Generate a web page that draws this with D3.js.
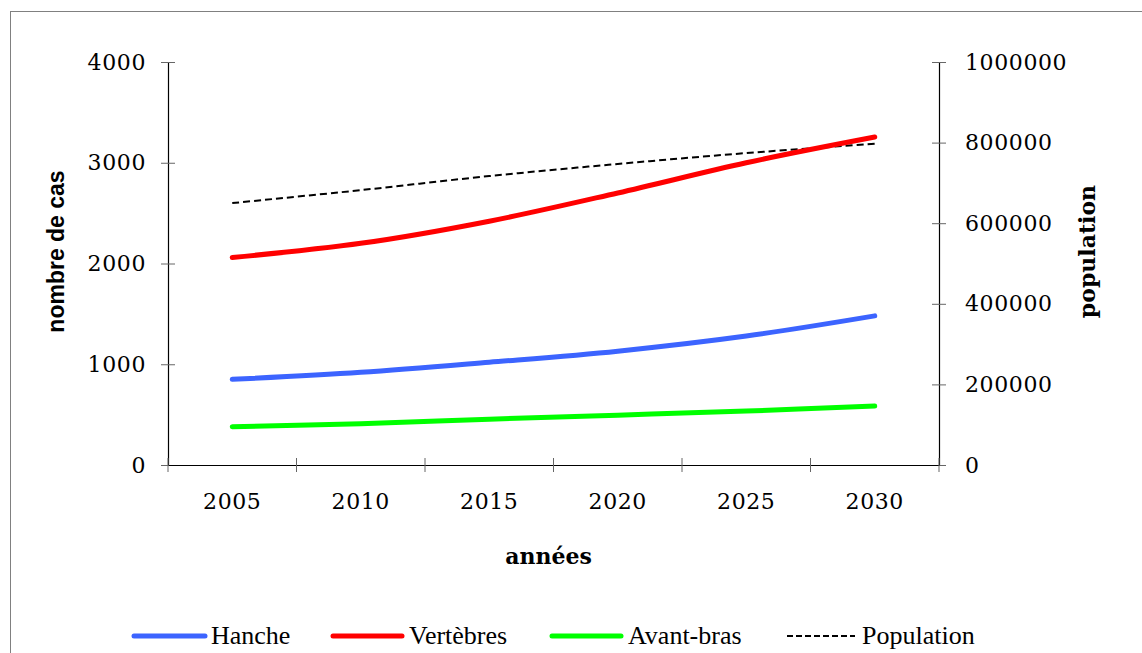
<!DOCTYPE html>
<html><head><meta charset="utf-8">
<script src="https://cdn.jsdelivr.net/npm/d3@7"></script>
<style>
html,body{margin:0;padding:0;background:#fff;}
svg{display:block;}
</style></head>
<body>
<svg id="chart" width="1142" height="653"></svg>
<script>
const years = ["2005","2010","2015","2020","2025","2030"];
const hanche = [850, 920, 1020, 1130, 1280, 1480];
const vertebres = [2060, 2200, 2420, 2700, 3000, 3255];
const avantBras = [380, 410, 455, 495, 535, 585];
const population = [650000, 682000, 717000, 747000, 774000, 797000];
const leftTicks = [0, 1000, 2000, 3000, 4000];
const rightTicks = [0, 200000, 400000, 600000, 800000, 1000000];
const seriesNames = ["Hanche", "Vertèbres", "Avant-bras", "Population"];
const seriesColors = ["#3c64ff", "#ff0000", "#00ff00", "#000000"];

const svg = d3.select("#chart");
const serif = "'DejaVu Serif', serif";

// outer border
svg.append("rect").attr("x", 10.5).attr("y", 11.5).attr("width", 1160).attr("height", 700)
  .attr("fill", "none").attr("stroke", "#808080").attr("stroke-width", 1);

const L = 168, R = 939, T = 62, B = 465;
const x = d3.scaleBand().domain(years).range([L, R]).padding(0);
const yL = d3.scaleLinear().domain([0, 4000]).range([B, T]);
const yR = d3.scaleLinear().domain([0, 1000000]).range([B, T]);
const cx = d => x(d) + x.bandwidth() / 2;

function styleTicks(g) {
  g.selectAll("text").attr("font-family", serif).attr("font-size", 22)
    .attr("fill", "#000").attr("letter-spacing", 0.6);
}

// left axis
const gL = svg.append("g").attr("transform", `translate(${L},0)`)
  .call(d3.axisLeft(yL).tickValues(leftTicks).tickSize(0).tickPadding(22).tickFormat(d3.format("d")));
gL.select(".domain").attr("stroke", "#000").attr("stroke-width", 1.2);
gL.selectAll(".tick").append("line").attr("x1", -7).attr("x2", 7).attr("stroke", "#666");
styleTicks(gL);

// right axis
const gR = svg.append("g").attr("transform", `translate(${R},0)`)
  .call(d3.axisRight(yR).tickValues(rightTicks).tickSize(0).tickPadding(26).tickFormat(d3.format("d")));
gR.select(".domain").attr("stroke", "#000").attr("stroke-width", 1.2);
gR.selectAll(".tick").append("line").attr("x1", -7).attr("x2", 7).attr("stroke", "#666");
styleTicks(gR);

// x axis
const gX = svg.append("g").attr("transform", `translate(0,${B})`)
  .call(d3.axisBottom(x).tickSize(0).tickPadding(28));
gX.select(".domain").attr("stroke", "#000").attr("stroke-width", 1.2);
styleTicks(gX);
const bounds = years.map(d => x(d)).concat([x(years[years.length - 1]) + x.bandwidth()]);
gX.selectAll(".sep").data(bounds).enter().append("line")
  .attr("x1", d => d).attr("x2", d => d).attr("y1", -7).attr("y2", 7).attr("stroke", "#666");

// axis titles
svg.append("text").attr("transform", `translate(64,${(T + B) / 2 - 12}) rotate(-90)`)
  .attr("text-anchor", "middle").attr("font-family", "'Liberation Sans', Arial, sans-serif")
  .attr("font-weight", "bold").attr("font-size", 23).text("nombre de cas");
svg.append("text").attr("transform", `translate(1095,${(T + B) / 2 - 12}) rotate(-90)`)
  .attr("text-anchor", "middle").attr("font-family", serif)
  .attr("font-weight", "bold").attr("font-size", 22).text("population");
svg.append("text").attr("x", (L + R) / 2 - 5).attr("y", 564)
  .attr("text-anchor", "middle").attr("font-family", serif)
  .attr("font-weight", "bold").attr("font-size", 22).text("années");

// lines
const curve = d3.curveCatmullRom.alpha(0.5);
const lineL = d3.line().x((d, i) => cx(years[i])).y(d => yL(d)).curve(curve);
const lineR = d3.line().x((d, i) => cx(years[i])).y(d => yR(d)).curve(curve);

svg.append("path").datum(population).attr("d", lineR).attr("fill", "none")
  .attr("stroke", "#000").attr("stroke-width", 2).attr("stroke-dasharray", "7,4");
[[hanche, 0], [vertebres, 1], [avantBras, 2]].forEach(([data, i]) => {
  svg.append("path").datum(data).attr("d", lineL).attr("fill", "none")
    .attr("stroke", seriesColors[i]).attr("stroke-width", 5).attr("stroke-linecap", "round");
});

// legend
const legendY = 636;
const legendItems = [
  {x1: 134, x2: 205, tx: 211},
  {x1: 333, x2: 402, tx: 409},
  {x1: 552, x2: 621, tx: 628},
  {x1: 787, x2: 855, tx: 862}
];
legendItems.forEach((it, i) => {
  const ln = svg.append("line").attr("x1", it.x1).attr("x2", it.x2).attr("y1", legendY).attr("y2", legendY)
    .attr("stroke", seriesColors[i]);
  if (i === 3) ln.attr("stroke-width", 2).attr("stroke-dasharray", "6,3");
  else ln.attr("stroke-width", 5).attr("stroke-linecap", "round");
  svg.append("text").attr("x", it.tx).attr("y", legendY + 8)
    .attr("font-family", "'Liberation Serif', serif").attr("font-size", 26)
    .attr("fill", "#000").text(seriesNames[i]);
});
</script>
</body></html>
